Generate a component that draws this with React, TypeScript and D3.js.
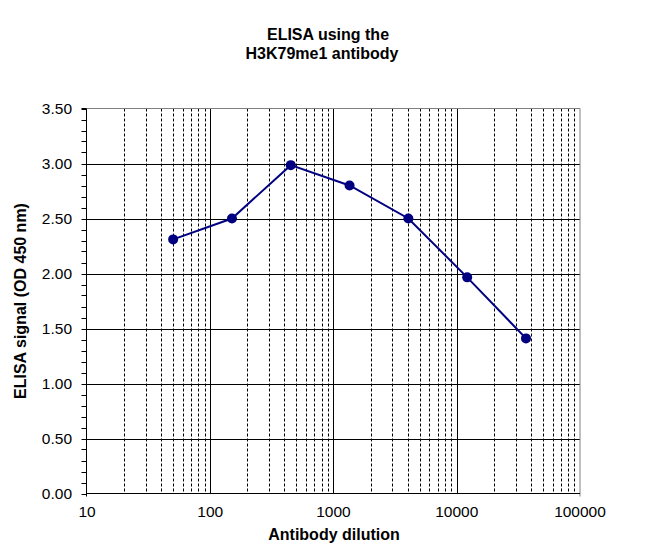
import * as d3 from 'd3';

const dilutions = [50, 150, 450, 1350, 4050, 12150, 36450];
const signal = [2.31, 2.5, 2.985, 2.8, 2.5, 1.965, 1.41];
const xTickLabels = ['10', '100', '1000', '10000', '100000'];
const yTickValues = [0, 0.5, 1, 1.5, 2, 2.5, 3, 3.5];

const W = 657;
const H = 550;
const plot = { left: 86.5, right: 580, top: 108.5, bottom: 493.5 };
const font = '"Liberation Sans", Arial, sans-serif';
const navy = '#000080';

const App = () => {
  const x = d3.scaleLog().domain([10, 100000]).range([plot.left + 0.5, plot.right]);
  const y = d3.scaleLinear().domain([0, 3.5]).range([plot.bottom, plot.top]);

  // decade gridlines solid, the 2..9 ones dashed
  const minorX: number[] = [];
  for (let d = 10; d < 100000; d *= 10) {
    for (let k = 2; k <= 9; k++) minorX.push(d * k);
  }
  const majorX = xTickLabels.map(Number);
  const minorY = d3.range(0, 36).map((i) => i / 10);

  const line = d3
    .line<number>()
    .x((_, i) => x(dilutions[i]))
    .y((d) => y(d));

  return (
    <div style={{ position: 'absolute', left: 0, top: 0 }}>
      <svg width={W} height={H} style={{ display: 'block', background: '#fff' }}>
        <g fontFamily={font} fill="#000">
          <text x={328} y={40} textAnchor="middle" fontSize={16} fontWeight="bold">
            ELISA using the
          </text>
          <text x={322} y={58.5} textAnchor="middle" fontSize={16} fontWeight="bold">
            H3K79me1 antibody
          </text>
        </g>

        {/* minor vertical gridlines */}
        {minorX.map((v) => (
          <line
            key={'mx' + v}
            x1={Math.round(x(v)) + 0.5}
            x2={Math.round(x(v)) + 0.5}
            y1={plot.top}
            y2={plot.bottom}
            stroke="#000"
            strokeWidth={1}
            strokeDasharray="3,2"
          />
        ))}
        {majorX.slice(1, -1).map((v) => (
          <line
            key={'Mx' + v}
            x1={Math.round(x(v)) + 0.5}
            x2={Math.round(x(v)) + 0.5}
            y1={plot.top}
            y2={plot.bottom}
            stroke="#000"
            strokeWidth={1}
          />
        ))}
        {yTickValues.slice(1, -1).map((v) => (
          <line
            key={'gy' + v}
            x1={plot.left}
            x2={plot.right}
            y1={Math.round(y(v)) + 0.5}
            y2={Math.round(y(v)) + 0.5}
            stroke="#000"
            strokeWidth={1}
          />
        ))}

        {/* plot border: top and right grey */}
        <line x1={plot.left} x2={plot.right} y1={plot.top} y2={plot.top} stroke="#808080" />
        <line x1={plot.right} x2={plot.right} y1={plot.top} y2={plot.bottom + 3} stroke="#808080" />

        {/* axes */}
        <line x1={plot.left} x2={plot.left} y1={plot.top} y2={plot.bottom + 3} stroke="#000" />
        <line x1={plot.left} x2={plot.right} y1={plot.bottom} y2={plot.bottom} stroke="#000" />
        {minorY.map((v) => (
          <line
            key={'ty' + v}
            x1={plot.left - 5}
            x2={plot.left}
            y1={Math.round(y(v)) + 0.5}
            y2={Math.round(y(v)) + 0.5}
            stroke="#000"
          />
        ))}
        <line x1={plot.left - 5} x2={plot.left} y1={plot.top} y2={plot.top} stroke="#000" />

        <g fontFamily={font} fontSize={15.5} fill="#000">
          {yTickValues.map((v) => (
            <text key={'ly' + v} x={72} y={y(v)} dy="0.36em" textAnchor="end">
              {v.toFixed(2)}
            </text>
          ))}
          {xTickLabels.map((t) => (
            <text key={'lx' + t} x={x(+t)} y={517} textAnchor="middle">
              {t}
            </text>
          ))}
        </g>

        <g fontFamily={font} fontSize={16} fontWeight="bold" fill="#000">
          <text x={334} y={539.5} textAnchor="middle">
            Antibody dilution
          </text>
          <text
            transform={`translate(26,${(plot.top + plot.bottom) / 2}) rotate(-90)`}
            textAnchor="middle"
          >
            ELISA signal (OD 450 nm)
          </text>
        </g>

        <path d={line(signal) || ''} fill="none" stroke={navy} strokeWidth={2} />
        {signal.map((v, i) => (
          <circle key={'p' + i} cx={x(dilutions[i])} cy={y(v)} r={5} fill={navy} />
        ))}
      </svg>
    </div>
  );
};

export default App;
